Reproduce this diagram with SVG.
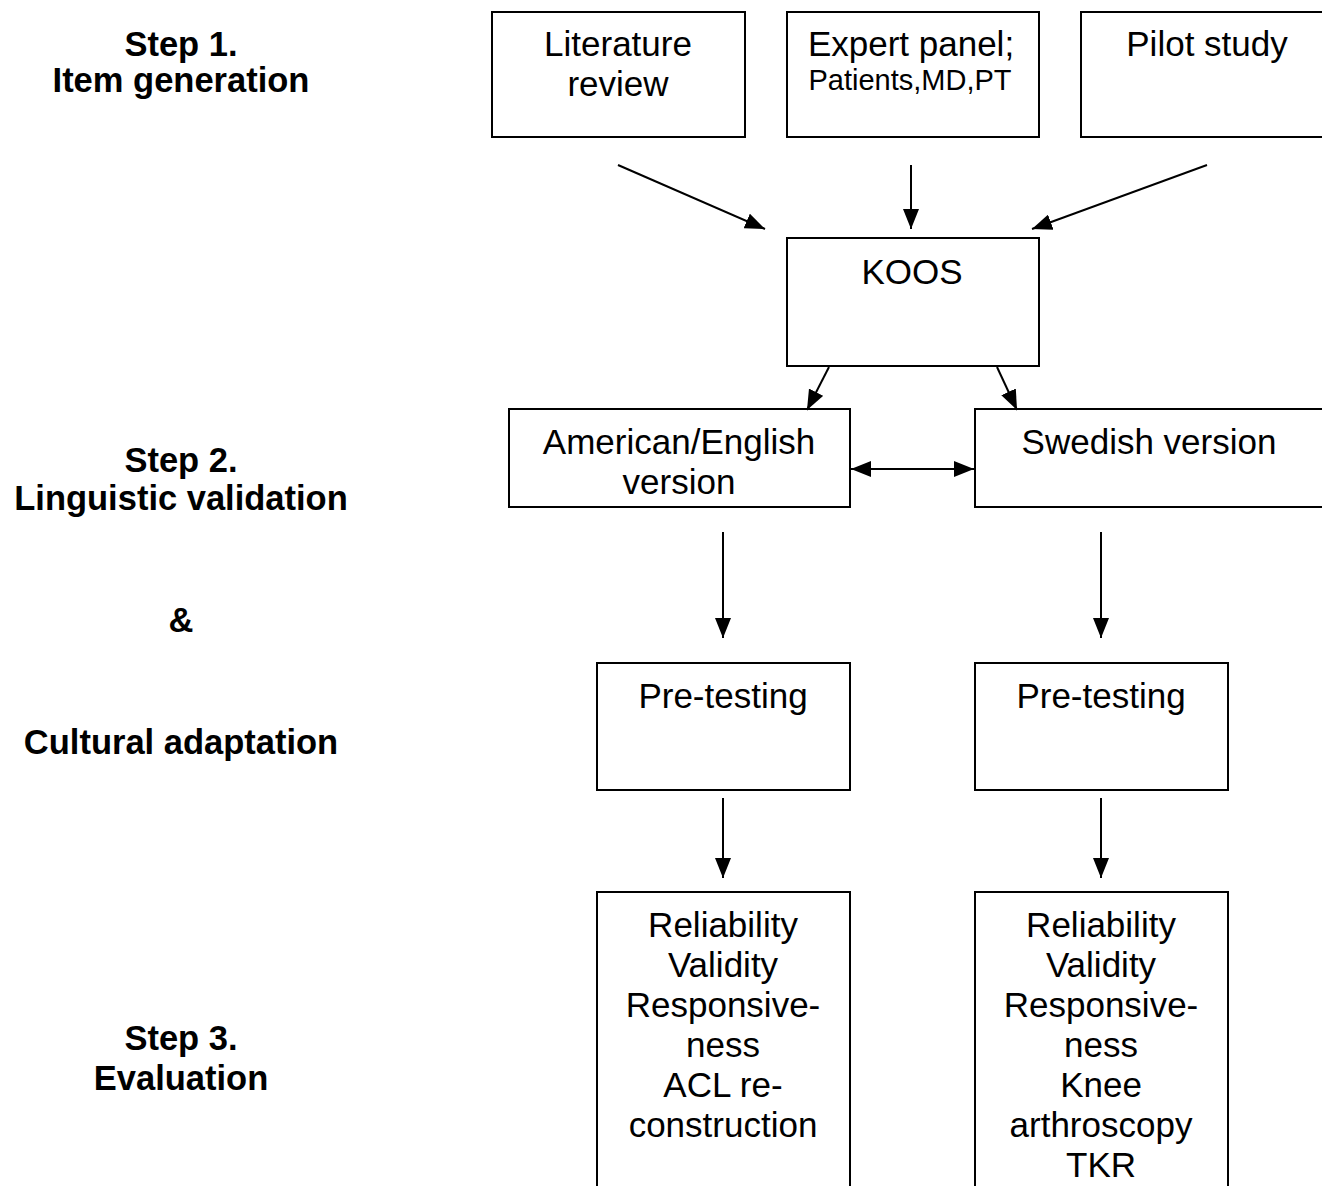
<svg xmlns="http://www.w3.org/2000/svg" width="1322" height="1186" viewBox="0 0 1322 1186">
<style>
.box{fill:#fff;stroke:#000;stroke-width:2}
.t{font-family:"Liberation Sans",Arial,sans-serif;font-size:35px;fill:#000;text-anchor:middle}
.s{font-size:29px}
.lab{font-family:"Liberation Sans",Arial,sans-serif;font-size:34.5px;font-weight:bold;fill:#000;text-anchor:middle}
.c{stroke:#000;stroke-width:2;fill:none}
</style>
<defs>
<marker id="ah" viewBox="0 0 10 8" refX="10" refY="4" markerWidth="10" markerHeight="8" markerUnits="strokeWidth" orient="auto-start-reverse">
<path d="M0,0 L10,4 L0,8 z" fill="#000"/>
</marker>
</defs>
<rect width="1322" height="1186" fill="#fff"/>
<g id="labels">
<text class="lab" x="181" y="56">Step 1.</text>
<text class="lab" x="181" y="92">Item generation</text>
<text class="lab" x="181" y="472">Step 2.</text>
<text class="lab" x="181" y="510">Linguistic validation</text>
<text class="lab" x="181" y="632">&amp;</text>
<text class="lab" x="181" y="754">Cultural adaptation</text>
<text class="lab" x="181" y="1050">Step 3.</text>
<text class="lab" x="181" y="1090">Evaluation</text>
</g>
<g id="lit"><rect class="box" x="492" y="12" width="253" height="125"/>
<text class="t" x="618" y="56">Literature</text><text class="t" x="618" y="96">review</text></g>
<g id="expert"><rect class="box" x="787" y="12" width="252" height="125"/>
<text class="t" x="911" y="56">Expert panel;</text><text class="t s" x="910" y="90">Patients,MD,PT</text></g>
<g id="pilot"><rect class="box" x="1081" y="12" width="260" height="125"/>
<text class="t" x="1207" y="56">Pilot study</text></g>
<g id="koos"><rect class="box" x="787" y="238" width="252" height="128"/>
<text class="t" x="912" y="284">KOOS</text></g>
<g id="amer"><rect class="box" x="509" y="409" width="341" height="98"/>
<text class="t" x="679" y="454">American/English</text><text class="t" x="679" y="494">version</text></g>
<g id="swed"><rect class="box" x="975" y="409" width="366" height="98"/>
<text class="t" x="1149" y="454">Swedish version</text></g>
<g id="pre1"><rect class="box" x="597" y="663" width="253" height="127"/>
<text class="t" x="723" y="708">Pre-testing</text></g>
<g id="pre2"><rect class="box" x="975" y="663" width="253" height="127"/>
<text class="t" x="1101" y="708">Pre-testing</text></g>
<g id="eval1"><rect class="box" x="597" y="892" width="253" height="310"/>
<text class="t" x="723" y="937">Reliability</text><text class="t" x="723" y="977">Validity</text><text class="t" x="723" y="1017">Responsive-</text><text class="t" x="723" y="1057">ness</text><text class="t" x="723" y="1097">ACL re-</text><text class="t" x="723" y="1137">construction</text></g>
<g id="eval2"><rect class="box" x="975" y="892" width="253" height="310"/>
<text class="t" x="1101" y="937">Reliability</text><text class="t" x="1101" y="977">Validity</text><text class="t" x="1101" y="1017">Responsive-</text><text class="t" x="1101" y="1057">ness</text><text class="t" x="1101" y="1097">Knee</text><text class="t" x="1101" y="1137">arthroscopy</text><text class="t" x="1101" y="1177">TKR</text></g>
<g id="connectors">
<line class="c" x1="618" y1="165" x2="765" y2="229" marker-end="url(#ah)"/>
<line class="c" x1="911" y1="165" x2="911" y2="229" marker-end="url(#ah)"/>
<line class="c" x1="1207" y1="165" x2="1032" y2="229" marker-end="url(#ah)"/>
<line class="c" x1="829" y1="367" x2="807" y2="410" marker-end="url(#ah)"/>
<line class="c" x1="997" y1="367" x2="1017" y2="410" marker-end="url(#ah)"/>
<line class="c" x1="851" y1="469" x2="974" y2="469" marker-start="url(#ah)" marker-end="url(#ah)"/>
<line class="c" x1="723" y1="532" x2="723" y2="638" marker-end="url(#ah)"/>
<line class="c" x1="1101" y1="532" x2="1101" y2="638" marker-end="url(#ah)"/>
<line class="c" x1="723" y1="798" x2="723" y2="878" marker-end="url(#ah)"/>
<line class="c" x1="1101" y1="798" x2="1101" y2="878" marker-end="url(#ah)"/>
</g>
</svg>
